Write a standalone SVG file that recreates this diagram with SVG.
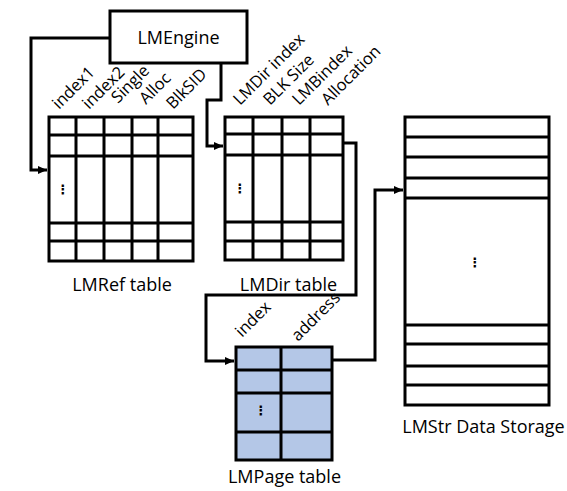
<svg xmlns="http://www.w3.org/2000/svg" width="567" height="491" viewBox="0 0 567 491">
<style>
.box{fill:#fff;stroke:#000;stroke-width:3}
.ln{stroke:#000;stroke-width:3;fill:none}
.page{fill:#B4C7E7;stroke:#000;stroke-width:3}
.lbl{font-family:"Open Sans","Liberation Sans",Arial,sans-serif;font-size:18px;fill:#000}
.hdr{font-family:"Open Sans","Liberation Sans",Arial,sans-serif;font-size:16.5px;fill:#000}
.dots{font-family:"DejaVu Sans",sans-serif;font-size:13px;font-weight:bold;fill:#000;text-anchor:middle}
.con{stroke:#000;stroke-width:3;fill:none;stroke-linejoin:miter}
</style>
<defs>
<marker id="arr" markerUnits="userSpaceOnUse" markerWidth="10" markerHeight="10" refX="9" refY="5" orient="auto">
<path d="M0,1 L9,5 L0,9 z" fill="#000"/>
</marker>
</defs>
<rect width="567" height="491" fill="#fff"/>

<g id="connectors">
<path class="con" d="M110,38 H31 V170 H47" marker-end="url(#arr)"/>
<path class="con" d="M221,63 V100 H207 V146 H223" marker-end="url(#arr)"/>
<path class="con" d="M343,143 H356 V295 H206 V361 H234" marker-end="url(#arr)"/>
<path class="con" d="M332,360 H375 V190 H403" marker-end="url(#arr)"/>
</g>

<g id="lmengine">
<rect class="box" x="110" y="11" width="137" height="52"/>
<text class="lbl" x="178.5" y="44" text-anchor="middle">LMEngine</text>
</g>

<g id="lmref">
<rect class="box" x="49" y="117" width="144" height="144"/>
<path class="ln" d="M49,135 H193 M49,156 H193 M49,223 H193 M49,241 H193 M76,117 V261 M104,117 V261 M132,117 V261 M158,117 V261"/>
<text class="dots" x="63" y="194">⋮</text>
<text class="hdr" transform="translate(59,110) rotate(-45)">index1</text>
<text class="hdr" transform="translate(89,110) rotate(-45)">index2</text>
<text class="hdr" transform="translate(118,104) rotate(-45)">Single</text>
<text class="hdr" transform="translate(146,105) rotate(-45)">Alloc</text>
<text class="hdr" transform="translate(173,110) rotate(-45)">BlkSID</text>
<text class="lbl" x="122" y="291" text-anchor="middle">LMRef table</text>
</g>

<g id="lmdir">
<rect class="box" x="225" y="117" width="118" height="143"/>
<path class="ln" d="M225,134 H343 M225,155 H343 M225,222 H343 M225,241 H343 M253,117 V260 M282,117 V260 M310,117 V260"/>
<text class="dots" x="240" y="193">⋮</text>
<text class="hdr" transform="translate(240,106) rotate(-45)">LMDir index</text>
<text class="hdr" transform="translate(270,106) rotate(-45)">BLK Size</text>
<text class="hdr" transform="translate(299,106) rotate(-45)">LMBindex</text>
<text class="hdr" transform="translate(328,106) rotate(-45)">Allocation</text>
<text class="lbl" x="288.5" y="291" text-anchor="middle">LMDir table</text>
</g>

<g id="lmpage">
<rect class="page" x="236" y="347" width="96" height="113"/>
<path class="ln" d="M236,370 H332 M236,393 H332 M236,432 H332 M281,347 V460"/>
<text class="dots" x="261" y="415">⋮</text>
<text class="hdr" transform="translate(242,338) rotate(-45)">index</text>
<text class="hdr" transform="translate(298,342) rotate(-45)">address</text>
<text class="lbl" x="284.5" y="483" text-anchor="middle">LMPage table</text>
</g>

<g id="lmstr">
<rect class="box" x="405" y="117" width="144" height="288"/>
<path class="ln" d="M405,137 H549 M405,157 H549 M405,178 H549 M405,198 H549 M405,325 H549 M405,344 H549 M405,366 H549 M405,385 H549"/>
<text class="dots" x="475" y="267">⋮</text>
<text class="lbl" x="483.5" y="433" text-anchor="middle">LMStr Data Storage</text>
</g>
</svg>
